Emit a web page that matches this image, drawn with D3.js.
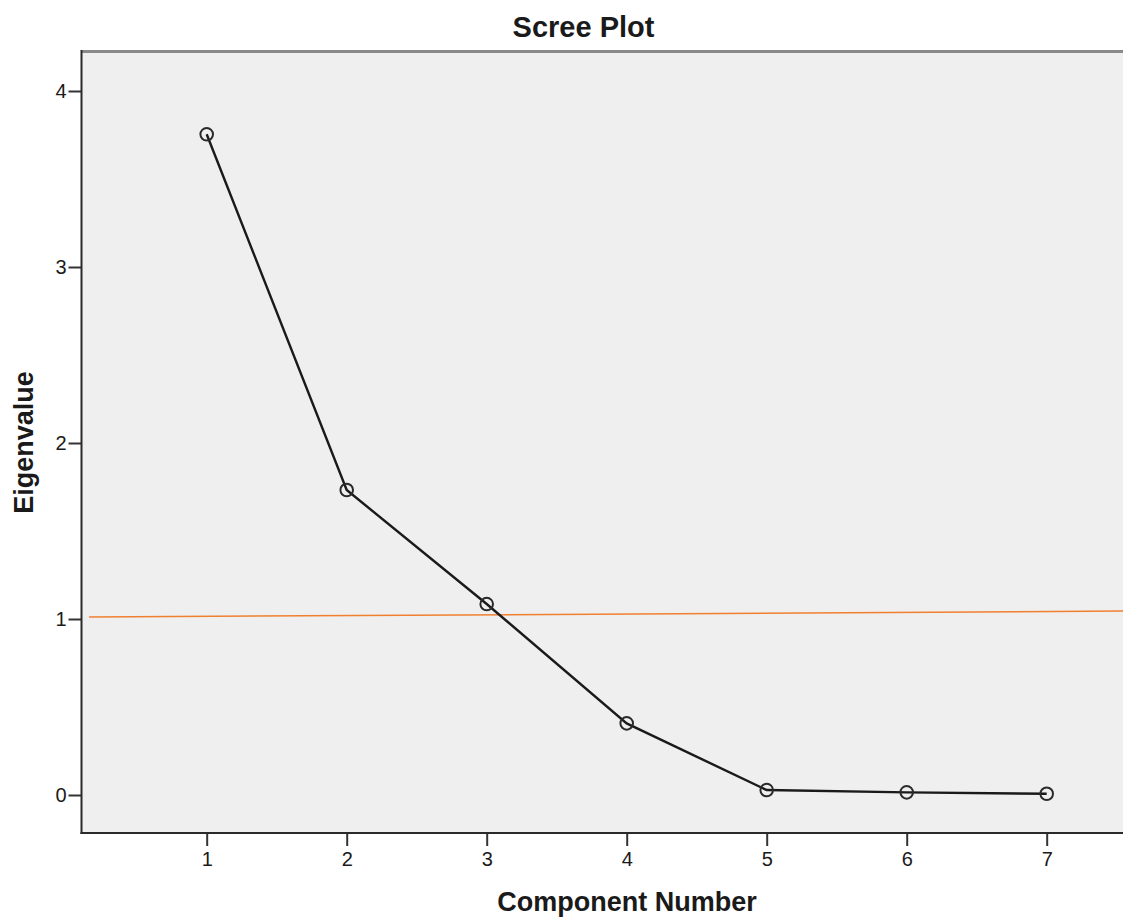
<!DOCTYPE html>
<html>
<head>
<meta charset="utf-8">
<script src="https://cdn.jsdelivr.net/npm/d3@7"></script>
<style>
  body { margin: 0; background: #fff; }
  text { font-family: Arial, "Liberation Sans", sans-serif; fill: #1a1a1a; }
</style>
</head>
<body>
<div id="chart"></div>
<script>
// Data
var components = [1, 2, 3, 4, 5, 6, 7];
var eigenvalues = [3.754, 1.733, 1.085, 0.407, 0.028, 0.015, 0.007];
var yTicks = [0, 1, 2, 3, 4];
// reference line (eigenvalue = 1), drawn slightly tilted as in the picture
var refX = [0.16, 7.55];
var refY = [1.011, 1.045];

var W = 1123, H = 919;
var plot = { left: 81.5, top: 52, right: 1130, bottom: 833 };

var x = d3.scaleLinear().domain([1, 7]).range([206.7, 1046.7]);
var y = d3.scaleLinear().domain([0, 4]).range([795, 91]);

var svg = d3.select("#chart").append("svg")
  .attr("width", W)
  .attr("height", H);

// plot background
svg.append("rect")
  .attr("x", plot.left).attr("y", plot.top)
  .attr("width", plot.right - plot.left)
  .attr("height", plot.bottom - plot.top)
  .attr("fill", "#efefef");

// top border (grey)
svg.append("line")
  .attr("x1", plot.left).attr("x2", plot.right)
  .attr("y1", plot.top - 0.5).attr("y2", plot.top - 0.5)
  .attr("stroke", "#8a8a8a").attr("stroke-width", 3);

// axes
var yAxis = svg.append("g")
  .attr("transform", "translate(" + plot.left + ",0)")
  .call(d3.axisLeft(y).tickValues(yTicks).tickSize(13).tickPadding(2).tickFormat(d3.format("d")));
var xAxis = svg.append("g")
  .attr("transform", "translate(0," + plot.bottom + ")")
  .call(d3.axisBottom(x).tickValues(components).tickSize(13).tickPadding(6).tickFormat(d3.format("d")));

[yAxis, xAxis].forEach(function(a) {
  a.select(".domain").remove();
  a.selectAll(".tick line").attr("stroke", "#333").attr("stroke-width", 2);
  a.selectAll(".tick text").style("font-size", "20px").attr("fill", "#1a1a1a");
});

// axis lines
svg.append("line")
  .attr("x1", plot.left).attr("x2", plot.left)
  .attr("y1", plot.top - 2).attr("y2", plot.bottom + 1)
  .attr("stroke", "#2a2a2a").attr("stroke-width", 2);
svg.append("line")
  .attr("x1", plot.left - 1).attr("x2", plot.right)
  .attr("y1", plot.bottom).attr("y2", plot.bottom)
  .attr("stroke", "#2a2a2a").attr("stroke-width", 2);

// reference line
svg.append("line")
  .attr("x1", x(refX[0])).attr("y1", y(refY[0]))
  .attr("x2", x(refX[1])).attr("y2", y(refY[1]))
  .attr("stroke", "#f08030").attr("stroke-width", 1.5);

var pts = components.map(function(c, i) { return { c: c, v: eigenvalues[i] }; });

svg.append("path")
  .datum(pts)
  .attr("fill", "none")
  .attr("stroke", "#1a1a1a")
  .attr("stroke-width", 2.4)
  .attr("d", d3.line().x(function(d) { return x(d.c); }).y(function(d) { return y(d.v); }));

svg.selectAll("circle.pt")
  .data(pts)
  .enter().append("circle")
  .attr("class", "pt")
  .attr("cx", function(d) { return x(d.c); })
  .attr("cy", function(d) { return y(d.v); })
  .attr("r", 6.3)
  .attr("fill", "none")
  .attr("stroke", "#2a2a2a")
  .attr("stroke-width", 2);

// titles
svg.append("text")
  .attr("x", 583.5).attr("y", 37)
  .attr("text-anchor", "middle")
  .style("font-size", "29px").style("font-weight", "bold")
  .text("Scree Plot");

svg.append("text")
  .attr("x", 627).attr("y", 911)
  .attr("text-anchor", "middle")
  .style("font-size", "27px").style("font-weight", "bold")
  .text("Component Number");

svg.append("text")
  .attr("transform", "translate(33,442.5) rotate(-90)")
  .attr("text-anchor", "middle")
  .style("font-size", "27px").style("font-weight", "bold")
  .text("Eigenvalue");
</script>
</body>
</html>
